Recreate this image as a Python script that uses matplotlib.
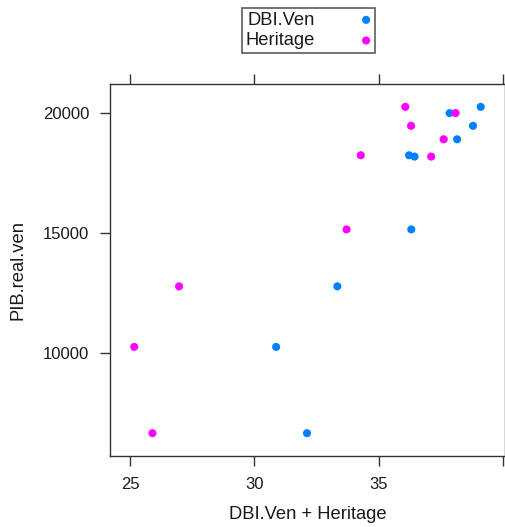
import matplotlib
matplotlib.use("Agg")
import matplotlib.pyplot as plt
import numpy as np

plt.rcParams['font.family'] = ['Liberation Sans', 'DejaVu Sans']

pib = [20250, 19990, 19460, 18900, 18235, 18180, 15150, 12780, 10260, 6670]
dbi_ven = [39.09, 37.84, 38.78, 38.14, 36.21, 36.43, 36.30, 33.33, 30.87, 32.11]
heritage = [36.06, 38.08, 36.29, 37.60, 34.27, 37.10, 33.70, 26.97, 25.17, 25.90]
series_names = ["DBI.Ven", "Heritage"]
colors = ["#0080ff", "#ff00ff"]
x_ticks = [25, 30, 35, 40]
x_tick_labels = ["25", "30", "35", ""]
y_ticks = [10000, 15000, 20000]

W, H = 505, 527
fig = plt.figure(figsize=(W / 100, H / 100), dpi=100)
ax = fig.add_axes([110 / W, 1 - 456 / H, 395 / W, (456 - 84) / H])

handles = []
for xs, c, name in zip([dbi_ven, heritage], colors, series_names):
    h = ax.scatter(xs, pib, s=34, color=c, edgecolors='none', label=name)
    handles.append(h)

allx = np.array(dbi_ven + heritage)
ally = np.array(pib)
px = (allx.max() - allx.min()) * 0.07
py = (ally.max() - ally.min()) * 0.07
ax.set_xlim(allx.min() - px, allx.max() + px)
ax.set_ylim(ally.min() - py, ally.max() + py)

ax.set_xticks(x_ticks)
ax.set_yticks(y_ticks)
ax.set_xticklabels(x_tick_labels)
ax.set_yticklabels([str(t) for t in y_ticks])
ax.tick_params(axis='both', direction='out', length=7, width=1, colors='#333333',
               labelsize=12, labelcolor='#1a1a1a', top=True, right=True, pad=8)
for s in ax.spines.values():
    s.set_color('#333333')
    s.set_linewidth(1)

ax.set_xlabel("DBI.Ven + Heritage", fontsize=13.2, color='#1a1a1a', labelpad=10)
ax.set_ylabel("PIB.real.ven", fontsize=13.2, color='#1a1a1a', labelpad=12)

leg = fig.legend(handles, series_names, loc='upper center',
                 bbox_to_anchor=(308.5 / W, 1 - 8 / H), markerfirst=False,
                 fontsize=13.2, frameon=True, fancybox=False, borderpad=0.2,
                 labelspacing=0.2, handletextpad=2.5, handlelength=0.6,
                 borderaxespad=0, scatterpoints=1)
leg.get_frame().set_edgecolor('#333333')
leg.get_frame().set_linewidth(1.2)
for t in leg.get_texts():
    t.set_color('#1a1a1a')

fig.savefig("out.png", dpi=100)
